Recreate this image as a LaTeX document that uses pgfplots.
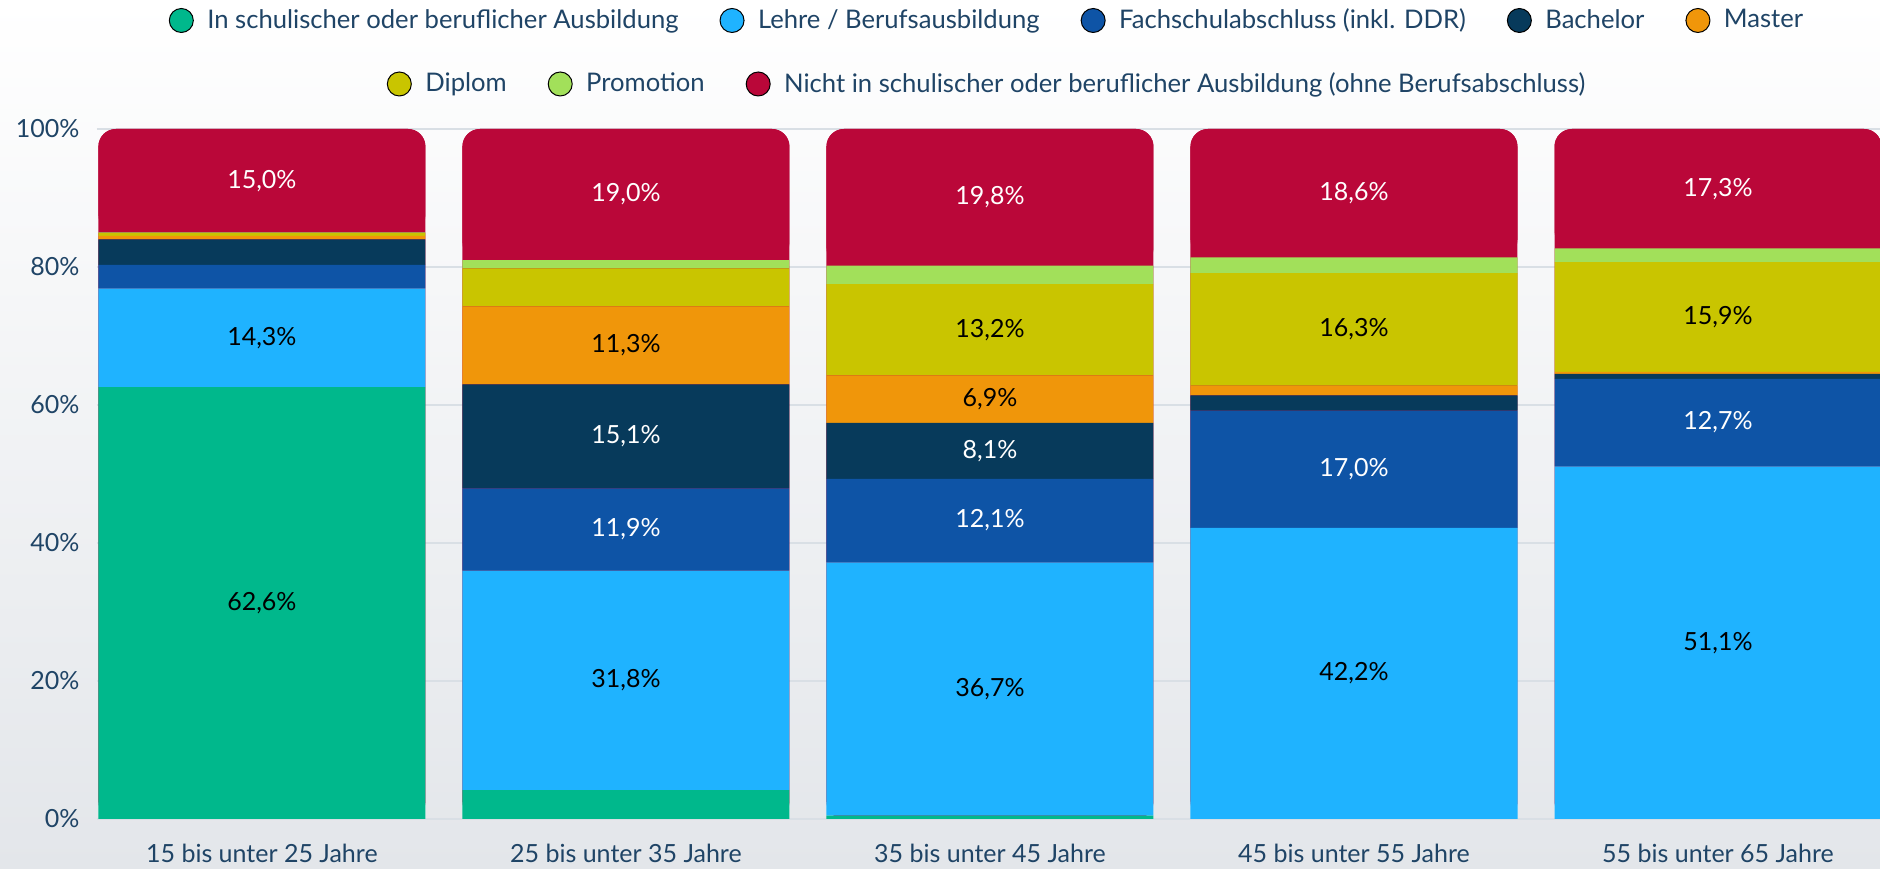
\documentclass[border=0pt]{standalone}
\usepackage{pgfplots}
\pgfplotsset{compat=1.18}
\usepackage{pgfplotstable}
\usepackage{fontspec}
\setmainfont{Lato}

\definecolor{cAusb}{HTML}{00B88C}
\definecolor{cLehre}{HTML}{1FB3FF}
\definecolor{cFach}{HTML}{0E54A6}
\definecolor{cBach}{HTML}{073A5B}
\definecolor{cMaster}{HTML}{F0960A}
\definecolor{cDiplom}{HTML}{C9C500}
\definecolor{cPromo}{HTML}{A2E05A}
\definecolor{cNicht}{HTML}{BA0739}
\definecolor{txtnavy}{HTML}{1F4466}
\definecolor{gridc}{HTML}{D9DFE5}
\definecolor{bgbot}{HTML}{E3E6EA}

% share in percent per age group (x = 0..4)
\pgfplotstableread{
x v
0 62.6
1 4.2
2 0.5
3 0.0
4 0.0
}\ausb
\pgfplotstableread{
x v
0 14.3
1 31.8
2 36.7
3 42.2
4 51.1
}\lehre
\pgfplotstableread{
x v
0 3.4
1 11.9
2 12.1
3 17.0
4 12.7
}\fach
\pgfplotstableread{
x v
0 3.7
1 15.1
2 8.1
3 2.2
4 0.7
}\bach
\pgfplotstableread{
x v
0 0.5
1 11.3
2 6.9
3 1.4
4 0.3
}\master
\pgfplotstableread{
x v
0 0.4
1 5.5
2 13.2
3 16.3
4 15.9
}\diplom
\pgfplotstableread{
x v
0 0.1
1 1.2
2 2.7
3 2.3
4 2.0
}\promo
\pgfplotstableread{
x v
0 15.0
1 19.0
2 19.8
3 18.6
4 17.3
}\nicht
% sum of all shares, used for the rounded backing bar
\pgfplotstableread{
x v
0 100
1 100
2 100
3 100
4 100
}\total

\pgfplotsset{
  common/.style={
    at={(38.8pt,20pt)}, anchor=south west,
    scale only axis, width=713.2pt, height=276pt,
    xmin=-0.453, xmax=4.445, ymin=0, ymax=100,
    bar width=130.8pt,
    legend cell align=left,
    legend style={draw=none, fill=none, text=txtnavy,
      font=\fontsize{10.25}{12.5}\selectfont,
      at={(0.5,1)}, anchor=center,
      /tikz/every even column/.append style={column sep=14.4pt}},
    /pgf/number format/assume math mode=true,
  },
  dot legend/.style={
    legend image code/.code={\fill (0pt,0pt) circle (4.8pt); \path (8.2pt,0pt);},
  },
}

\newcommand{\seglabel}[1]{%
  \pgfmathparse{#1>6 ? 1 : 0}%
  \ifnum\pgfmathresult=1 \pgfmathprintnumber[fixed,fixed zerofill,precision=1,use comma]{#1}\%\fi}

\begin{document}
\begin{tikzpicture}
\shade[top color=white, middle color=white, bottom color=bgbot] (0,0) rectangle (752pt,347.6pt);

\begin{axis}[
  common,
  ybar,
  dot legend,
  axis line style={draw=none},
  major tick length=0pt,
  ytick={0,20,...,100},
  yticklabel={\pgfmathprintnumber{\tick}\%},
  yticklabel style={xshift=-3.5pt, text=txtnavy, font=\fontsize{10}{12}\selectfont},
  xtick={0,...,4},
  xticklabels={15 bis unter 25 Jahre, 25 bis unter 35 Jahre, 35 bis unter 45 Jahre,
    45 bis unter 55 Jahre, 55 bis unter 65 Jahre},
  xticklabel style={yshift=-6.5pt, text=txtnavy, font=\fontsize{10}{12}\selectfont},
  ymajorgrids, grid style={gridc, line width=0.8pt},
  legend columns=5,
  legend style={yshift=43.4pt},
]
\addlegendimage{fill=cAusb}
\addlegendimage{fill=cLehre}
\addlegendimage{fill=cFach}
\addlegendimage{fill=cBach}
\addlegendimage{fill=cMaster}
\addplot[forget plot, fill=cNicht, draw=none, bar shift=0pt, rounded corners=7pt] table[x=x,y=v] {\total};
\legend{In schulischer oder beruflicher Ausbildung, Lehre / Berufsausbildung,
  Fachschulabschluss (inkl. DDR), Bachelor, Master}
\end{axis}

\begin{axis}[
  common,
  hide axis,
  ybar stacked,
  dot legend,
  legend columns=3,
  legend style={yshift=18pt},
  visualization depends on={\thisrow{v} \as \rawy},
  nodes near coords={\seglabel{\rawy}},
  every node near coord/.append style={anchor=center,
    text=black, font=\fontsize{10}{12}\selectfont},
]
\addlegendimage{fill=cDiplom}
\addlegendimage{fill=cPromo}
\addlegendimage{fill=cNicht}
\addplot[fill=cAusb, draw=none] table[x=x,y=v] {\ausb};
\addplot[fill=cLehre, draw=none] table[x=x,y=v] {\lehre};
\addplot[fill=cFach, draw=none, every node near coord/.append style={text=white}] table[x=x,y=v] {\fach};
\addplot[fill=cBach, draw=none, every node near coord/.append style={text=white}] table[x=x,y=v] {\bach};
\addplot[fill=cMaster, draw=none] table[x=x,y=v] {\master};
\addplot[fill=cDiplom, draw=none] table[x=x,y=v] {\diplom};
\addplot[fill=cPromo, draw=none] table[x=x,y=v] {\promo};
\addplot[fill=cNicht, draw=none, rounded corners=7pt, every node near coord/.append style={text=white}] table[x=x,y=v] {\nicht};
\legend{Diplom, Promotion, Nicht in schulischer oder beruflicher Ausbildung (ohne Berufsabschluss)}
\end{axis}

\pgfresetboundingbox
\path[use as bounding box] (0,0) rectangle (752pt,347.6pt);
\end{tikzpicture}
\end{document}
